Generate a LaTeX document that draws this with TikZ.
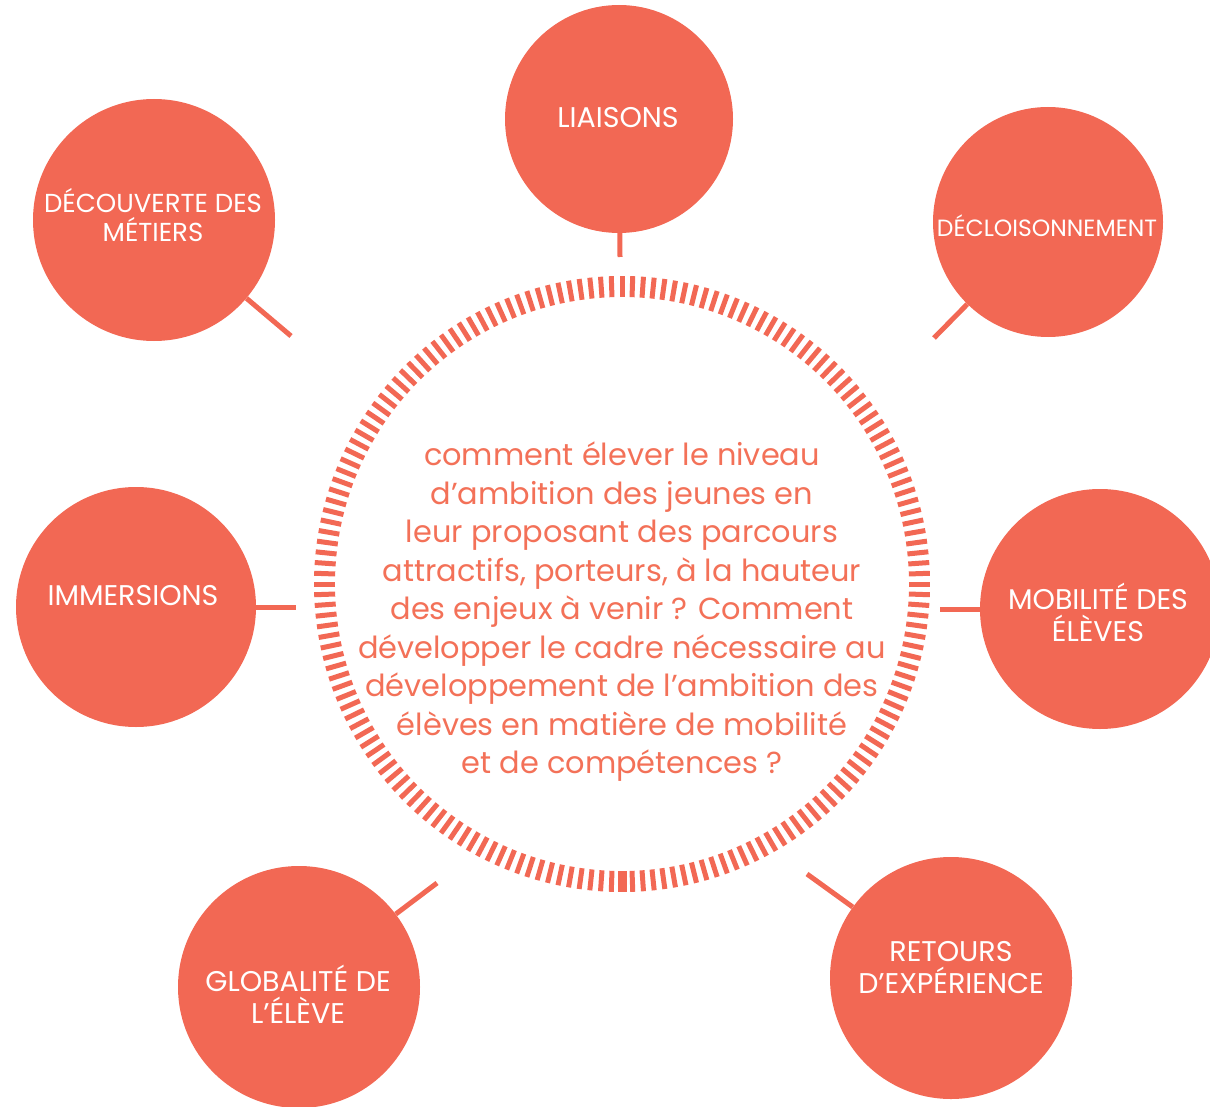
\documentclass[tikz,border=0pt]{standalone}
\usepackage{fontspec}
\usetikzlibrary{calc}
\setmainfont{Poppins}
\definecolor{salmon}{HTML}{F26854}
\definecolor{salmontext}{HTML}{F37158}
\begin{document}
\begin{tikzpicture}[x=1pt,y=-1pt,
  bubble/.style={circle,fill=salmon,inner sep=0pt,draw=none},
  lbl/.style={text=white,align=center,font=\fontsize{28.5}{32}\selectfont},
  conn/.style={draw=salmon,line width=5pt},
  tick/.style={draw=salmon,line width=5pt}]
\useasboundingbox (0,0) rectangle (1210,1107);
% dashed ring
\coordinate (ring) at (622,584);
\foreach \a in {0,2,...,358}{
  \draw[tick] ($(ring)+(\a:287pt)$) -- ($(ring)+(\a:308pt)$);
}
\draw[tick,line width=9pt] ($(ring)+(270:287pt)$) -- ($(ring)+(270:308pt)$);
% bubbles
\node[bubble,minimum size=228pt] (liai) at (619,119) {};
\node[bubble,minimum size=242pt] (decou) at (154,220) {};
\node[bubble,minimum size=230pt] (decl) at (1048,222) {};
\node[bubble,minimum size=240pt] (imm) at (136,607) {};
\node[bubble,minimum size=240pt] (mob) at (1100,609) {};
\node[bubble,minimum size=242pt] (glob) at (299,987) {};
\node[bubble,minimum size=242pt] (ret) at (951,978) {};
% connector ends
\coordinate (eliai) at (620,257);
\coordinate (edecou) at (291,336);
\coordinate (edecl) at (934,338);
\coordinate (eimm) at (296,607);
\coordinate (emob) at (940,609);
\coordinate (eglob) at (437,883);
\coordinate (eret) at (807,874);
\draw[conn] (liai) -- (eliai);
\draw[conn] (decou) -- (edecou);
\draw[conn] (decl) -- (edecl);
\draw[conn] (imm) -- (eimm);
\draw[conn] (mob) -- (emob);
\draw[conn] (glob) -- (eglob);
\draw[conn] (ret) -- (eret);
% labels
\node[lbl] (tliai) at (618,118) {LIAISONS};
\node[lbl,font=\fontsize{26}{29}\selectfont] (tdecou) at (153,215) {DÉCOUVERTE DES\\MÉTIERS};
\node[lbl,font=\fontsize{23.5}{26}\selectfont] (tdecl) at (1047,226) {DÉCLOISONNEMENT};
\node[lbl] (timm) at (133,596) {IMMERSIONS};
\node[lbl] (tmob) at (1098,612) {MOBILITÉ DES\\ÉLÈVES};
\node[lbl] (tglob) at (298,994) {GLOBALITÉ DE\\L’ÉLÈVE};
\node[lbl] (tret) at (951,968) {RETOURS\\D’EXPÉRIENCE};
% central text
\node[text=salmontext,align=center,font=\fontsize{30.4}{38.5}\selectfont] (q) at (622,612)
{comment élever le niveau\\
d’ambition des jeunes en\\
leur proposant des parcours\\
attractifs, porteurs, à la hauteur\\
des enjeux à venir ? Comment\\
développer le cadre nécessaire au\\
développement de l’ambition des\\
élèves en matière de mobilité\\
et de compétences ?};
\end{tikzpicture}
\end{document}
